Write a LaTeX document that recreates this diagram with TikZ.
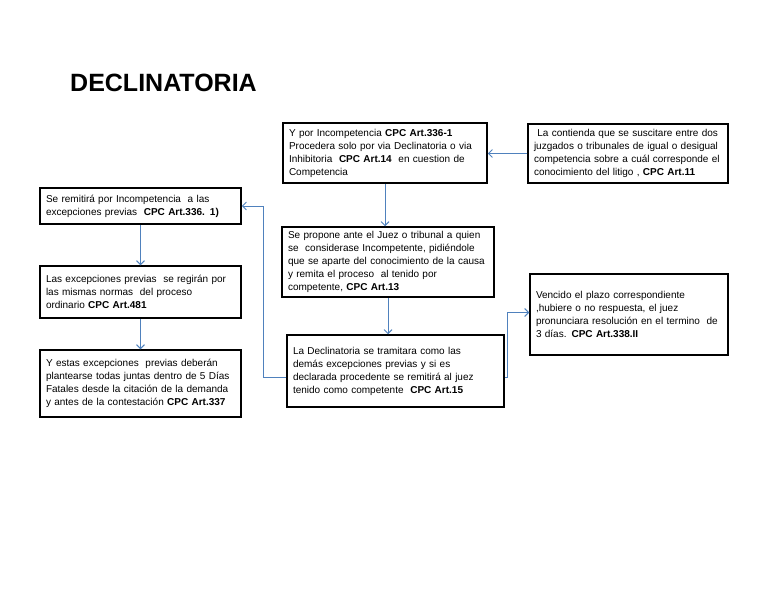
\documentclass[tikz,border=0pt]{standalone}
\usepackage{fontspec}
\setmainfont{Liberation Sans}
\usetikzlibrary{arrows.meta,positioning}
\definecolor{flecha}{RGB}{79,129,189}

\begin{document}
\begin{tikzpicture}[x=1pt, y=-1pt,
    caja/.style={draw, line width=1.5pt, inner xsep=6pt, inner ysep=2pt,
      text width=#1, align=left, font=\fontsize{10}{13}\selectfont},
    enlace/.style={draw=flecha, line width=0.9pt, -{Straight Barb[length=4pt,width=8pt]}}]
    \useasboundingbox (0,0) rectangle (768,594);

    % titulo
    \node[anchor=base west, inner sep=0pt, font=\fontsize{25}{30}\selectfont\bfseries] (titulo) at (70,91) {DECLINATORIA};

    % columna central
    \node[caja=192pt, minimum height=60pt] (incomp) at (385,153)
      {Y por Incompetencia \textbf{CPC Art.336-1}\\
       Procedera solo por via Declinatoria o via\\
       Inhibitoria\ \ \textbf{CPC Art.14}\ \ en cuestion de\\
       Competencia};
    \node[caja=200pt, minimum height=70pt] (propone) at (388,262)
      {Se propone ante el Juez o tribunal a quien\\
       se\ \ considerase Incompetente, pidiéndole\\
       que se aparte del conocimiento de la causa\\
       y remita el proceso\ \ al tenido por\\
       competente, \textbf{CPC Art.13}};
    \node[caja=205pt, minimum height=72pt] (tramite) at (395.5,371)
      {La Declinatoria se tramitara como las\\
       demás excepciones previas y si es\\
       declarada procedente se remitirá al juez\\
       tenido como competente\ \ \textbf{CPC Art.15}};

    % columna derecha
    \node[caja=188pt, minimum height=59pt] (contienda) at (628,153.5)
      {\ La contienda que se suscitare entre dos\\
       juzgados o tribunales de igual o desigual\\
       competencia sobre a cuál corresponde el\\
       conocimiento del litigo , \textbf{CPC Art.11}};
    \node[caja=186pt, minimum height=81pt] (vencido) at (629,314.5)
      {Vencido el plazo correspondiente\\
       ,hubiere o no respuesta, el juez\\
       pronunciara resolución en el termino\ \ de\\
       3 días. \textbf{CPC Art.338.II}};

    % columna izquierda
    \node[caja=189pt, minimum height=36pt] (remite) at (140.5,206)
      {Se remitirá por Incompetencia\ \ a las\\
       excepciones previas\ \ \textbf{CPC Art.336. 1)}};
    \node[caja=189pt, minimum height=52pt] (normas) at (140.5,292)
      {Las excepciones previas\ \ se regirán por\\
       las mismas normas\ \ del proceso\\
       ordinario \textbf{CPC Art.481}};
    \node[caja=189pt, minimum height=67pt] (plazo) at (140.5,383.5)
      {Y estas excepciones\ \ previas deberán\\
       plantearse todas juntas dentro de 5 Días\\
       Fatales desde la citación de la demanda\\
       y antes de la contestación \textbf{CPC Art.337}};

    % flechas
    \draw[enlace] (contienda.west) -- (contienda.west -| incomp.east);
    \draw[enlace] (incomp.south) -- (incomp.south |- propone.north);
    \draw[enlace] (propone.south) -- (propone.south |- tramite.north);
    \draw[enlace] (remite.south) -- (normas.north);
    \draw[enlace] (normas.south) -- (plazo.north);
    \draw[enlace] ([yshift=-6pt]tramite.west) -- ++(-23,0) |- (remite.east);
    \draw[enlace] ([yshift=-6pt]tramite.east) -- ++(3,0) |- ([yshift=2pt]vencido.west);
  \end{tikzpicture}
\end{document}
